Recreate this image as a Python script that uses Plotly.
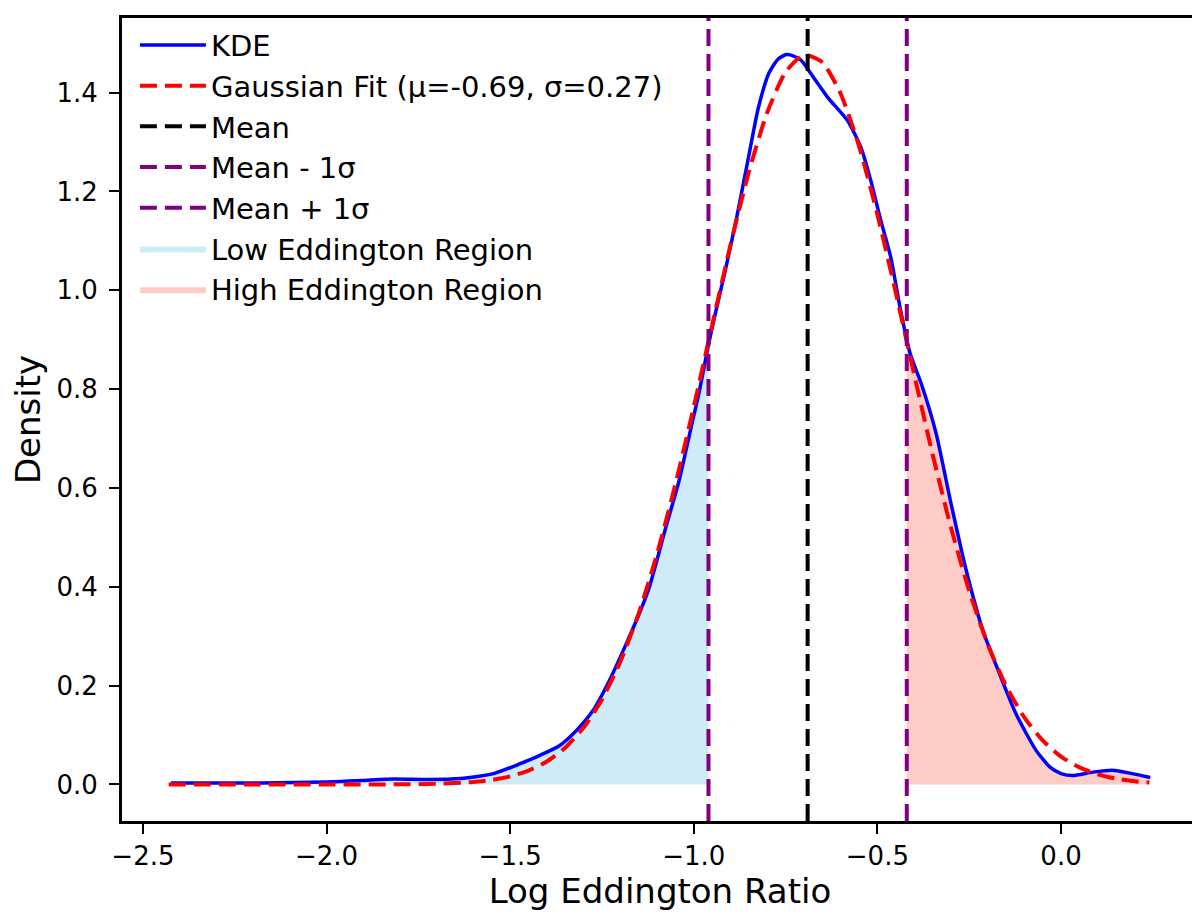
import numpy as np
import plotly.graph_objects as go

# KDE curve
kde_x = [-2.424, -2.30, -2.176, -2.0, -1.905, -1.815, -1.725, -1.635, -1.545,
         -1.473, -1.419, -1.365, -1.320, -1.275, -1.230, -1.185, -1.145, -1.122,
         -1.077, -1.041, -1.005, -0.985, -0.96, -0.941, -0.914, -0.883, -0.851,
         -0.824, -0.795, -0.77, -0.748, -0.728, -0.707, -0.680, -0.635, -0.581,
         -0.545, -0.518, -0.491, -0.464, -0.437, -0.41, -0.38, -0.34, -0.30,
         -0.257, -0.212, -0.167, -0.122, -0.068, -0.03, 0.0, 0.032, 0.086, 0.140,
         0.194, 0.243]
kde_y = [0.003, 0.003, 0.003, 0.005, 0.008, 0.011, 0.010, 0.012, 0.022,
         0.042, 0.059, 0.079, 0.109, 0.149, 0.210, 0.283, 0.352, 0.397,
         0.518, 0.612, 0.730, 0.795, 0.890, 0.954, 1.041, 1.148, 1.269,
         1.370, 1.440, 1.468, 1.477, 1.474, 1.465, 1.437, 1.390, 1.343,
         1.289, 1.222, 1.142, 1.068, 0.960, 0.870, 0.810, 0.710, 0.570,
         0.430, 0.310, 0.223, 0.142, 0.069, 0.035, 0.022, 0.018, 0.025, 0.029,
         0.022, 0.014]

# Gaussian fit (mu=-0.69, sigma=0.27) values read at these x
gauss_x = [-2.43, -2.2, -2.0, -1.8, -1.7, -1.6, -1.55, -1.5, -1.45, -1.4, -1.35,
           -1.3, -1.25, -1.2, -1.15, -1.1, -1.05, -1.0, -0.95, -0.9, -0.85,
           -0.8, -0.75, -0.7, -0.65, -0.6, -0.55, -0.5, -0.45, -0.4, -0.35,
           -0.3, -0.25, -0.2, -0.15, -0.1, -0.05, 0.0, 0.05, 0.1, 0.15, 0.2, 0.24]
gauss_y = [0.0, 0.0, 0.0, 0.0003, 0.0013, 0.0050, 0.0093, 0.0164, 0.0281, 0.0466,
           0.0745, 0.1151, 0.1720, 0.2483, 0.3462, 0.4665, 0.6075, 0.7645,
           0.9294, 1.0920, 1.2397, 1.3599, 1.4416, 1.4766, 1.4615, 1.3977,
           1.2917, 1.1535, 0.9953, 0.8300, 0.6688, 0.5206, 0.3916, 0.2847,
           0.2000, 0.1357, 0.0891, 0.0564, 0.0346, 0.0205, 0.0117, 0.0065, 0.0039]

mean_val = -0.69
low_cut = -0.96
high_cut = -0.42

x_ticks = [-2.5, -2.0, -1.5, -1.0, -0.5, 0.0]
x_ticktext = ['\u22122.5', '\u22122.0', '\u22121.5', '\u22121.0', '\u22120.5', '0.0']
y_ticks = [0.0, 0.2, 0.4, 0.6, 0.8, 1.0, 1.2, 1.4]

kx = np.array(kde_x)
ky = np.array(kde_y)


def region(lo, hi):
    m = (kx > lo) & (kx < hi)
    xs = np.concatenate([[max(lo, kx[0])], kx[m], [min(hi, kx[-1])]])
    ys = np.interp(xs, kx, ky)
    return xs, ys


low_x, low_y = region(-10, low_cut)
high_x, high_y = region(high_cut, 10)

fig = go.Figure()

fig.add_trace(go.Scatter(x=low_x, y=low_y, mode='lines', fill='tozeroy',
                         fillcolor='rgba(135,206,235,0.4)',
                         line=dict(width=0, shape='spline', smoothing=0.6),
                         name='Low Eddington Region', legendrank=6))
fig.add_trace(go.Scatter(x=high_x, y=high_y, mode='lines', fill='tozeroy',
                         fillcolor='rgba(250,128,114,0.4)',
                         line=dict(width=0, shape='spline', smoothing=0.6),
                         name='High Eddington Region', legendrank=7))

fig.add_trace(go.Scatter(x=kde_x, y=kde_y, mode='lines', name='KDE',
                         line=dict(color='blue', width=3.5, shape='spline', smoothing=0.6),
                         legendrank=1))
fig.add_trace(go.Scatter(x=gauss_x, y=gauss_y, mode='lines',
                         name='Gaussian Fit (\u03bc=-0.69, \u03c3=0.27)',
                         line=dict(color='red', width=4, dash='17px,8px',
                                   shape='spline', smoothing=0.6),
                         legendrank=2))

vlines = [(mean_val, 'black', 'Mean'),
          (low_cut, '#800080', 'Mean - 1\u03c3'),
          (high_cut, '#800080', 'Mean + 1\u03c3')]
for i, (v, c, nm) in enumerate(vlines):
    fig.add_vline(x=v, line=dict(color=c, width=4, dash='17px,8px'))
    fig.add_trace(go.Scatter(x=[None], y=[None], mode='lines', name=nm,
                             line=dict(color=c, width=4, dash='17px,8px'),
                             legendrank=3 + i))

axis_common = dict(showgrid=False, zeroline=False, showline=True, mirror=True,
                   linecolor='black', linewidth=3, ticks='outside', ticklen=10,
                   tickwidth=2, tickcolor='black',
                   tickfont=dict(family='DejaVu Sans', size=26, color='black'))

fig.update_xaxes(range=[-2.557, 0.373], tickvals=x_ticks, ticktext=x_ticktext,
                 title=dict(text='Log Eddington Ratio', standoff=6,
                            font=dict(family='DejaVu Sans', size=34, color='black')),
                 **axis_common)
fig.update_yaxes(range=[-0.0739, 1.551], tickvals=y_ticks, tickformat='.1f',
                 ticklabelstandoff=6,
                 title=dict(text='Density', standoff=18,
                            font=dict(family='DejaVu Sans', size=34, color='black')),
                 **axis_common)

fig.update_layout(
    width=1200, height=918,
    margin=dict(l=111, r=9, t=7, b=105),
    plot_bgcolor='white', paper_bgcolor='white',
    font=dict(family='DejaVu Sans', color='black'),
    legend=dict(x=0.012, y=0.998, xanchor='left', yanchor='top',
                bgcolor='rgba(255,255,255,0.8)', borderwidth=0,
                font=dict(family='DejaVu Sans', size=29, color='black'),
                itemwidth=66),
)

fig.write_html("out.html")
